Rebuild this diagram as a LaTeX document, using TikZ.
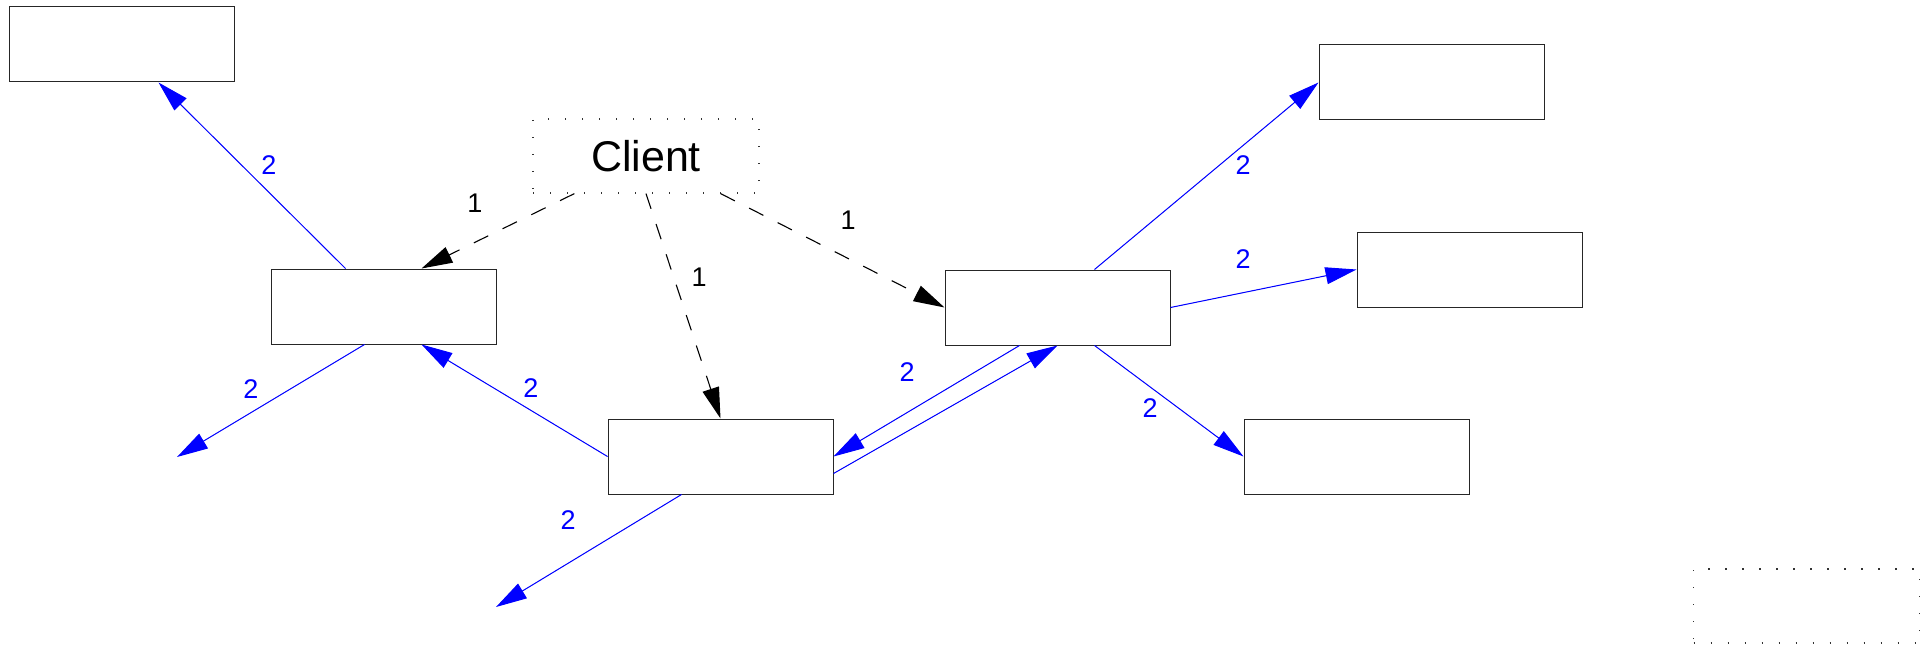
\documentclass[tikz,border=0pt]{standalone}
\usepackage{fontspec}
\setmainfont{Liberation Sans}
\usetikzlibrary{arrows.meta,calc}
\begin{document}
\begin{tikzpicture}[x=0.5pt,y=-0.5pt,
  box/.style={draw=black!85,line width=0.5pt,minimum width=112.5pt,minimum height=37.5pt,inner sep=0pt},
  dotbox/.style={draw=black!80,line width=0.6pt,dash pattern={on 0.6pt off 7.9pt},minimum width=113pt,minimum height=37pt,inner sep=0pt},
  flow/.style={draw=blue,line width=0.5pt,-{Triangle[length=15.5pt,width=8.5pt]},fill=blue},
  req/.style={draw=black,line width=0.55pt,dash pattern={on 8pt off 8pt},-{Triangle[length=15.5pt,width=8.5pt]}},
  lblb/.style={text=blue,font=\fontsize{13.5}{16}\selectfont,inner sep=0pt},
  lblk/.style={text=black,font=\fontsize{13.5}{16}\selectfont,inner sep=0pt}]
\useasboundingbox (0,0) rectangle (1932,647);
% boxes
\node[box] (A) at (121.5,44.5) {};
\node[box] (B) at (383.5,306.5) {};
\node[box] (C) at (720.5,456.5) {};
\node[box] (D) at (1057.5,307.5) {};
\node[box] (E) at (1431.5,82.5) {};
\node[box] (F) at (1469.5,269.5) {};
\node[box] (G) at (1356.5,456.5) {};
\node[dotbox,font=\fontsize{21.5}{26}\selectfont] (Cl) at (646,156) {Client};
\node[dotbox] (R) at (1806.5,606) {};
% free ends
\coordinate (fB) at (177,457);
\coordinate (fC) at (496,607);
% blue connectors
\draw[flow] ([xshift=37.5pt]B.north west) -- ([xshift=75pt]A.south west);
\draw[flow] ([xshift=47pt]B.south west) -- (fB);
\draw[flow] (C.west) -- ([xshift=75.5pt]B.south west);
\draw[flow] ([xshift=37pt]C.south west) -- (fC);
\draw[flow] ([xshift=37.5pt]D.south west) -- (C.east);
\draw[flow] ([yshift=-8.5pt]C.east) -- (D.south);
\draw[flow] ([xshift=75pt]D.north west) -- (E.west);
\draw[flow] (D.east) -- (F.west);
\draw[flow] ([xshift=75pt]D.south west) -- (G.west);
% dashed connectors
\draw[req] ([xshift=21pt]Cl.south west) -- ([xshift=75.5pt]B.north west);
\draw[req] (Cl.south) -- (C.north);
\draw[req] ([xshift=-19.5pt]Cl.south east) -- (D.west);
% labels
\node[lblb] (l1) at (269,165) {2};
\node[lblb] (l2) at (251,389) {2};
\node[lblb] (l3) at (531,388) {2};
\node[lblb] (l4) at (568,520) {2};
\node[lblb] (l5) at (907,372) {2};
\node[lblb] (l6) at (1243,165) {2};
\node[lblb] (l7) at (1243,259) {2};
\node[lblb] (l8) at (1150,408) {2};
\node[lblk] (k1) at (475,203) {1};
\node[lblk] (k2) at (699,277) {1};
\node[lblk] (k3) at (848,220) {1};
\end{tikzpicture}
\end{document}
